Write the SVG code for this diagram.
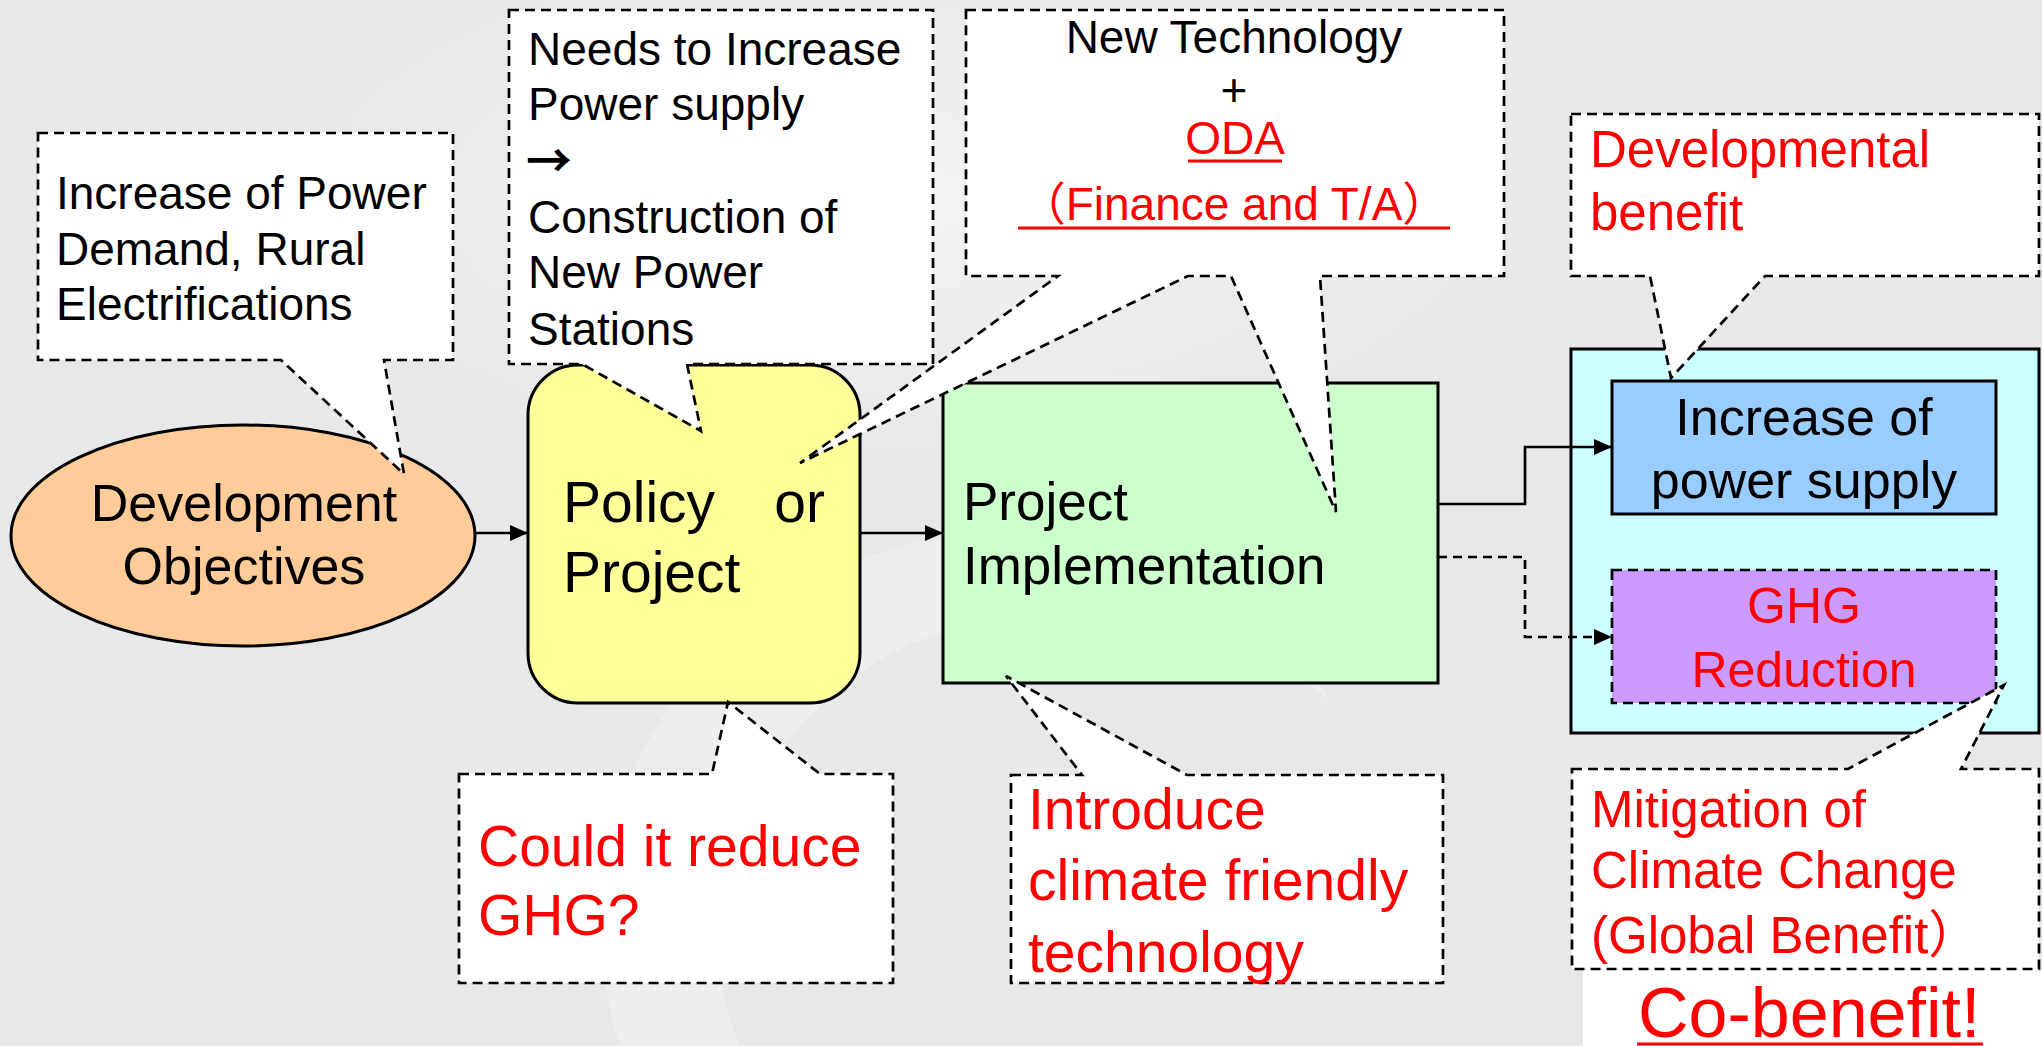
<svg xmlns="http://www.w3.org/2000/svg" width="2042" height="1046" viewBox="0 0 2042 1046">
<defs>
<marker id="ah" markerUnits="userSpaceOnUse" markerWidth="20" markerHeight="18" refX="18" refY="8" orient="auto"><path d="M0,0 L18,8 L0,16 Z" fill="#000"/></marker>
<radialGradient id="bgl" cx="0.5" cy="0.5" r="0.5"><stop offset="0" stop-color="#f4f4f6" stop-opacity="0.9"/><stop offset="1" stop-color="#f4f4f6" stop-opacity="0"/></radialGradient>
</defs>
<style>
.t{font-family:"Liberation Sans",Arial,sans-serif;fill:#000}
.cjk{font-family:"Liberation Sans","Noto Sans CJK JP",sans-serif}
.r{fill:#ff0000}
.box{stroke:#000;stroke-width:3}
.call{fill:#fff;stroke:#000;stroke-width:2.7;stroke-dasharray:10 6;stroke-linejoin:miter}
.con{fill:none;stroke:#000;stroke-width:2.7}
.dash{stroke-dasharray:9 6}
.ul{stroke:#ff0000;stroke-width:3}
</style>
<rect x="0" y="0" width="2042" height="1046" fill="#e8e8ea"/>
<ellipse cx="900" cy="200" rx="600" ry="260" fill="url(#bgl)"/>
<path d="M620,1046 C560,860 640,650 860,560 C1040,490 1250,560 1330,700 C1200,600 1000,590 880,660 C720,760 690,930 740,1046 Z" fill="#f1f1f3" opacity="0.7"/>

<g id="dev-objectives">
<ellipse class="box" cx="243" cy="535.5" rx="232" ry="110.5" fill="#ffcc99"/>
<text class="t" font-size="52" text-anchor="middle" x="244" y="521">Development</text>
<text class="t" font-size="52" text-anchor="middle" x="244" y="584">Objectives</text>
</g>
<g id="policy">
<rect class="box" x="528" y="365" width="332" height="338" rx="50" ry="50" fill="#ffff99"/>
<text class="t" font-size="57" x="563" y="522">Policy</text>
<text class="t" font-size="57" x="825" y="522" text-anchor="end">or</text>
<text class="t" font-size="57" x="563" y="592">Project</text>
</g>
<g id="implementation">
<rect class="box" x="943" y="383" width="495" height="300" fill="#ccffcc"/>
<text class="t" font-size="53" x="963" y="520">Project</text>
<text class="t" font-size="53" x="963" y="584">Implementation</text>
</g>
<g id="benefits">
<rect class="box" x="1571" y="349" width="468" height="384" fill="#ccffff"/>
</g>
<g id="power-supply">
<rect class="box" x="1612" y="381" width="384" height="133" fill="#99ccff"/>
<text class="t" font-size="52" text-anchor="middle" x="1804" y="435">Increase of</text>
<text class="t" font-size="52" text-anchor="middle" x="1804" y="498">power supply</text>
</g>
<g id="ghg">
<rect x="1612" y="570" width="384" height="133" fill="#cc99ff" stroke="#000" stroke-width="2.7" stroke-dasharray="10 6"/>
<text class="t r" font-size="50" text-anchor="middle" x="1804" y="623">GHG</text>
<text class="t r" font-size="50" text-anchor="middle" x="1804" y="687">Reduction</text>
</g>

<g id="connectors">
<path class="con" d="M475,533 H528" marker-end="url(#ah)"/>
<path class="con" d="M860,533 H943" marker-end="url(#ah)"/>
<path class="con" d="M1438,504 H1525 V447 H1612" marker-end="url(#ah)"/>
<path class="con dash" d="M1438,557 H1525 V637 H1612" marker-end="url(#ah)"/>
</g>

<g id="co-benefit">
<rect x="1583" y="969" width="459" height="77" fill="#fff"/>
<text class="t r" font-size="70" x="1638" y="1037">Co-benefit!</text>
<line class="ul" x1="1637" y1="1044" x2="1983" y2="1044"/>
</g>

<g id="callout-demand">
<path class="call" d="M38,133 H453 V360 H384 L404,474 L281,360 H38 Z"/>
<text class="t" font-size="46" x="56" y="209">Increase of Power</text>
<text class="t" font-size="46" x="56" y="265">Demand, Rural</text>
<text class="t" font-size="46" x="56" y="320">Electrifications</text>
</g>
<g id="callout-needs">
<path class="call" d="M509,10 H933 V364 H687 L701,431 L582,364 H509 Z"/>
<text class="t" font-size="46" x="528" y="65">Needs to Increase</text>
<text class="t" font-size="46" x="528" y="120">Power supply</text>
<text class="t" font-size="46" x="526" y="177" style="font-family:'Noto Sans CJK JP','DejaVu Sans',sans-serif;font-weight:700">→</text>
<text class="t" font-size="46" x="528" y="233">Construction of</text>
<text class="t" font-size="46" x="528" y="288">New Power</text>
<text class="t" font-size="46" x="528" y="345">Stations</text>
</g>
<g id="callout-tech">
<path class="call" d="M966,10 H1504 V276 H1320 L1336,512 L1231,276 H1188 L800,463 L1058,276 H966 Z"/>
<text class="t" font-size="46" text-anchor="middle" x="1234" y="53">New Technology</text>
<text class="t" font-size="46" text-anchor="middle" x="1234" y="106">+</text>
<text class="t r" font-size="46" text-anchor="middle" x="1235" y="154">ODA</text>
<line class="ul" x1="1188" y1="161" x2="1282" y2="161"/>
<text class="t r cjk" font-size="46" text-anchor="middle" x="1234" y="220">（Finance and T/A）</text>
<line class="ul" x1="1018" y1="228" x2="1450" y2="228"/>
</g>
<g id="callout-dev-benefit">
<path class="call" d="M1571,114 H2039 V276 H1765 L1671,378 L1650,276 H1571 Z"/>
<text class="t r" font-size="51" x="1590" y="167">Developmental</text>
<text class="t r" font-size="51" x="1590" y="230">benefit</text>
</g>
<g id="callout-reduce">
<path class="call" d="M459,774 H712 L728,702 L820,774 H893 V983 H459 Z"/>
<text class="t r" font-size="57" x="478" y="866">Could it reduce</text>
<text class="t r" font-size="57" x="478" y="935">GHG?</text>
</g>
<g id="callout-introduce">
<path class="call" d="M1011,775 H1082 L1006,676 L1187,775 H1443 V983 H1011 Z"/>
<text class="t r" font-size="57" x="1028" y="829">Introduce</text>
<text class="t r" font-size="57" x="1028" y="900">climate friendly</text>
<text class="t r" font-size="57" x="1028" y="972">technology</text>
</g>
<g id="callout-mitigation">
<path class="call" d="M1572,769 H1848 L2004,685 L1961,769 H2039 V969 H1572 Z"/>
<text class="t r" font-size="51" x="1591" y="827">Mitigation of</text>
<text class="t r" font-size="51" x="1591" y="888">Climate Change</text>
<text class="t r cjk" font-size="51" x="1591" y="953">(Global Benefit）</text>
</g>
</svg>
